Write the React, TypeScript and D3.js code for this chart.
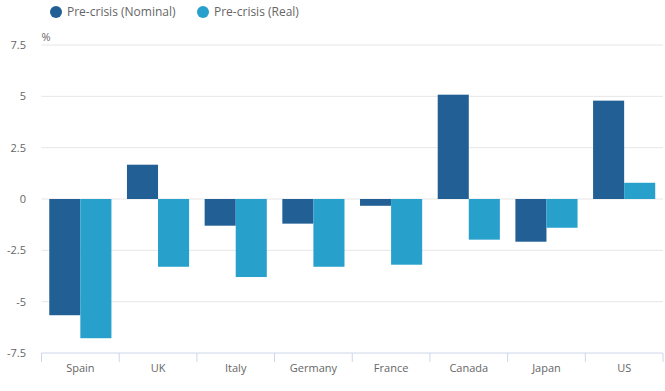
import { useEffect, useRef } from "react";
import * as d3 from "d3";

const countries = ["Spain", "UK", "Italy", "Germany", "France", "Canada", "Japan", "US"];
const nominal = [-5.66, 1.67, -1.3, -1.2, -0.33, 5.08, -2.08, 4.79];
const real = [-6.78, -3.3, -3.8, -3.3, -3.2, -1.98, -1.4, 0.79];
const yTicks = [-7.5, -5, -2.5, 0, 2.5, 5, 7.5];
const seriesNames = ["Pre-crisis (Nominal)", "Pre-crisis (Real)"];

const W = 665;
const H = 391;
const M = { top: 45, right: 2, bottom: 38, left: 41.5 };
const COLORS = ["#215F94", "#27A0CC"];
const FONT = "'Open Sans', sans-serif";

export default function App() {
  const ref = useRef<SVGSVGElement>(null);

  useEffect(() => {
    const svg = d3.select(ref.current);
    svg.selectAll("*").remove();

    const x = d3.scaleBand().domain(countries).range([M.left, W - M.right])
      .paddingInner(0.2).paddingOuter(0.1);
    const xs = d3.scaleBand().domain(["n", "r"]).range([0, x.bandwidth()]);
    const y = d3.scaleLinear().domain([-7.5, 7.5]).range([H - M.bottom, M.top]);

    // gridlines
    svg.append("g").selectAll("line")
      .data(yTicks.filter(t => t !== -7.5))
      .join("line")
      .attr("x1", M.left).attr("x2", W - M.right)
      .attr("y1", d => y(d)).attr("y2", d => y(d))
      .attr("stroke", "#e6e6e6").attr("stroke-width", 1);

    // y labels
    svg.append("g").selectAll("text")
      .data(yTicks)
      .join("text")
      .attr("x", 26).attr("y", d => y(d)).attr("dy", "0.35em")
      .attr("text-anchor", "end")
      .attr("font-family", FONT).attr("font-size", 11).attr("fill", "#666")
      .text(d => String(d));

    svg.append("text")
      .attr("x", M.left).attr("y", 41)
      .attr("font-family", FONT).attr("font-size", 11).attr("fill", "#666")
      .text("%");

    // bars
    const g = svg.append("g");
    countries.forEach((c, i) => {
      [nominal[i], real[i]].forEach((v, j) => {
        g.append("rect")
          .attr("x", x(c)! + xs(j === 0 ? "n" : "r")!)
          .attr("width", xs.bandwidth())
          .attr("y", y(Math.max(0, v)))
          .attr("height", Math.abs(y(v) - y(0)))
          .attr("fill", COLORS[j]);
      });
    });

    // x axis
    const axY = y(-7.5);
    const step = x.step();
    const edges = d3.range(countries.length + 1).map(i => M.left + i * step);
    svg.append("line")
      .attr("x1", M.left).attr("x2", W - M.right)
      .attr("y1", axY).attr("y2", axY)
      .attr("stroke", "#ccd6eb").attr("stroke-width", 1);
    svg.append("g").selectAll("line")
      .data(edges)
      .join("line")
      .attr("x1", d => d).attr("x2", d => d)
      .attr("y1", axY).attr("y2", axY + 9)
      .attr("stroke", "#ccd6eb").attr("stroke-width", 1);
    svg.append("g").selectAll("text")
      .data(countries)
      .join("text")
      .attr("x", d => x(d)! + x.bandwidth() / 2)
      .attr("y", 372)
      .attr("text-anchor", "middle")
      .attr("font-family", FONT).attr("font-size", 11).attr("fill", "#666")
      .text(d => d);

    // legend
    const legX = [56, 203];
    seriesNames.forEach((name, i) => {
      svg.append("circle")
        .attr("cx", legX[i]).attr("cy", 12).attr("r", 6)
        .attr("fill", COLORS[i]);
      svg.append("text")
        .attr("x", legX[i] + 11).attr("y", 12).attr("dy", "0.35em")
        .attr("font-family", FONT).attr("font-size", 12).attr("fill", "#666")
        .text(name);
    });
  }, []);

  return (
    <svg ref={ref} width={W} height={H}
      style={{ position: "absolute", left: 0, top: 0, background: "#fff" }} />
  );
}
